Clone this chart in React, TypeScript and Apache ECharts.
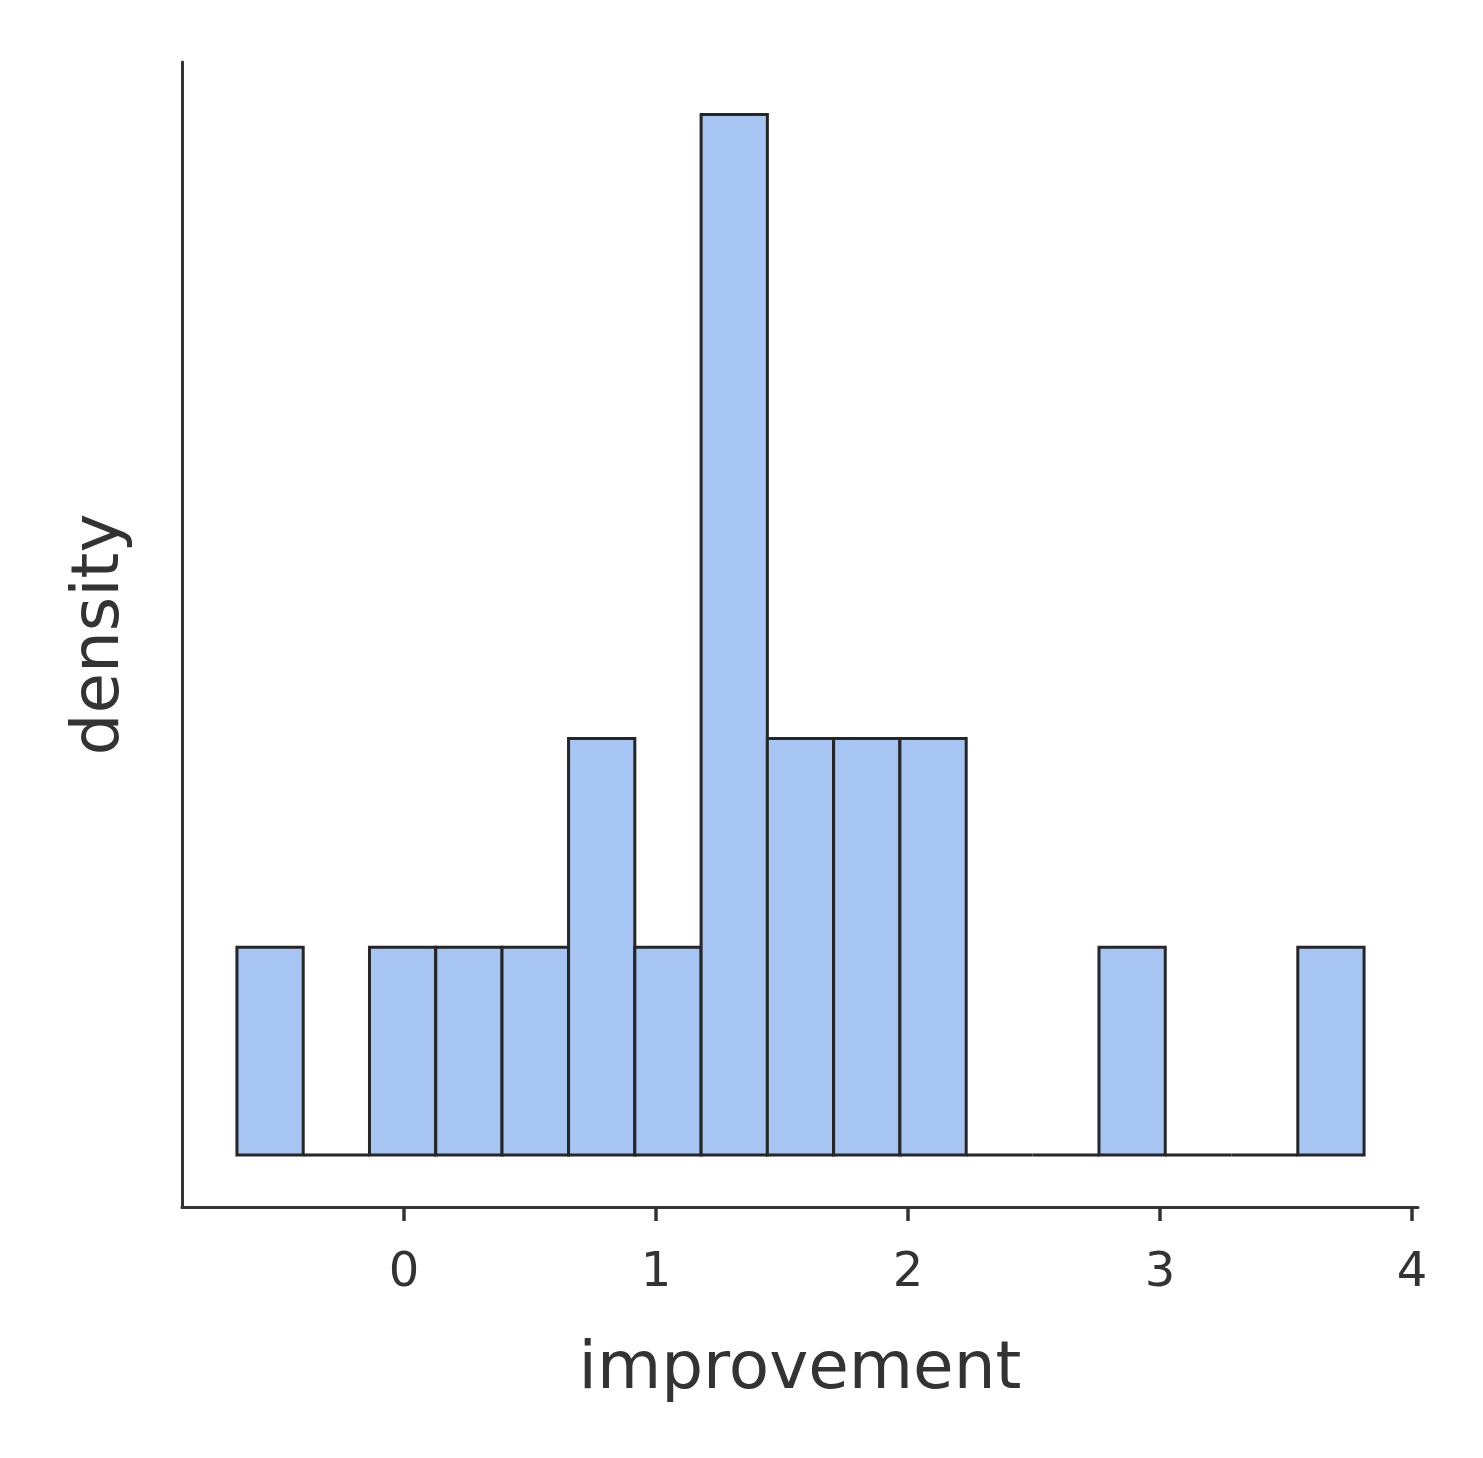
import * as echarts from 'echarts'
import { useEffect, useRef } from 'react'

// bin edges (17 bins)
const binEdges = [
	-0.663, -0.4, -0.137, 0.126, 0.389, 0.653, 0.916, 1.179, 1.442, 1.705, 1.968,
	2.231, 2.494, 2.758, 3.021, 3.284, 3.547, 3.81,
]
// density of each bin
const densities = [
	0.19, 0, 0.19, 0.19, 0.19, 0.381, 0.19, 0.952, 0.381, 0.381, 0.381, 0, 0, 0.19,
	0, 0, 0.19,
]
const xTicks = [0, 1, 2, 3, 4]

const FONT = 'DejaVu Sans'
const TEXT = '#333333'

const App = () => {
	const chartRef = useRef(null)

	useEffect(() => {
		const myChart = echarts.init(chartRef.current, null, { renderer: 'svg' })

		const data = densities.map((d, i) => [binEdges[i], binEdges[i + 1], d])

		const option = {
			animation: false,
			grid: { left: 182, top: 62, right: 65, bottom: 251 },
			xAxis: {
				type: 'value',
				min: -0.881,
				max: 4.024,
				name: 'improvement',
				nameLocation: 'middle',
				nameGap: 125,
				nameTextStyle: { fontFamily: FONT, fontSize: 66, color: TEXT },
				splitLine: { show: false },
				axisLine: {
					onZero: false,
					lineStyle: { color: TEXT, width: 3 },
				},
				axisTick: {
					customValues: xTicks,
					length: 14,
					lineStyle: { color: TEXT, width: 3.5 },
				},
				axisLabel: {
					customValues: xTicks,
					margin: 38,
					fontFamily: FONT,
					fontSize: 48,
					color: TEXT,
				},
			},
			yAxis: {
				type: 'value',
				min: -0.0476,
				max: 1.0,
				name: 'density',
				nameLocation: 'middle',
				nameGap: 54,
				nameTextStyle: { fontFamily: FONT, fontSize: 66, color: TEXT },
				splitLine: { show: false },
				axisLine: {
					show: true,
					onZero: false,
					lineStyle: { color: TEXT, width: 3 },
				},
				axisTick: { show: false },
				axisLabel: { show: false },
			},
			series: [
				{
					type: 'custom',
					data: data,
					renderItem: (params: any, api: any) => {
						const p0 = api.coord([api.value(0), 0])
						const p1 = api.coord([api.value(1), api.value(2)])
						return {
							type: 'rect',
							shape: {
								x: p0[0],
								y: p1[1],
								width: p1[0] - p0[0],
								height: p0[1] - p1[1],
							},
							style: { fill: '#a7c5f2', stroke: '#262626', lineWidth: 3 },
						}
					},
				},
			],
		}

		myChart.setOption(option)

		return () => {
			myChart.dispose()
		}
	}, [])

	return (
		<div
			ref={chartRef}
			style={{ position: 'fixed', left: 0, top: 0, width: 1483, height: 1458 }}
		/>
	)
}

export default App
